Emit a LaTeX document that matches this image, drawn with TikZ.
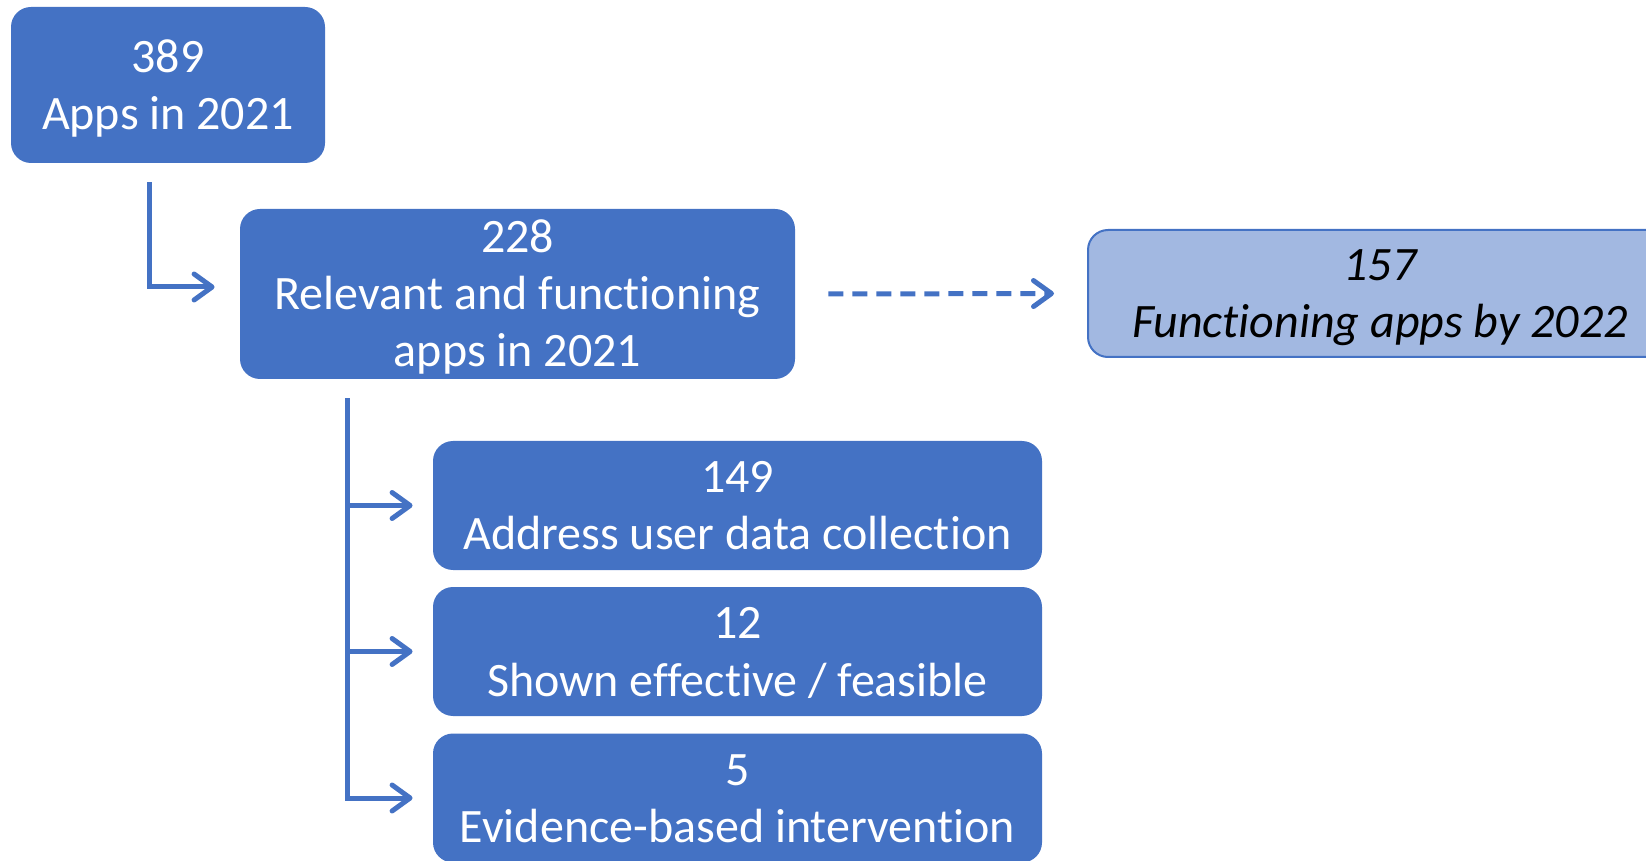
\documentclass[tikz,border=0pt]{standalone}
\usepackage{fontspec}
\setmainfont[Ligatures=NoCommon]{Carlito}
\usetikzlibrary{arrows.meta,calc}
\definecolor{boxblue}{HTML}{4472C4}
\definecolor{paleblue}{HTML}{A2B8E1}
% fixed line box so that every label sits at the same height in its box
\newcommand\ls{\rule[-4pt]{0pt}{24pt}}
\begin{document}
\begin{tikzpicture}[x=0.5pt,y=-0.5pt,
  box/.style={fill=boxblue, draw=none, rounded corners=10pt, text=white,
    align=center, inner sep=0pt, font=\fontsize{24pt}{28.5pt}\selectfont},
  palebox/.style={box, fill=paleblue, draw=boxblue, line width=1pt, text=black,
    font=\fontsize{24pt}{28.5pt}\selectfont\itshape},
  arr/.style={draw=boxblue, line width=2.5pt,
    -{Straight Barb[length=9pt,width=13pt,line cap=round,line join=round]}},
  dasharr/.style={arr, dash pattern=on 7.5pt off 4.5pt}
]
\clip (0,0) rectangle (1646,861);

% boxes
\node[box, minimum width=157pt, minimum height=78pt] (b1) at (168,85)
  {\ls 389\\Apps in 2021\ls};
\node[box, minimum width=277.5pt, minimum height=85pt] (b2) at (517.5,294)
  {\ls 228\\Relevant and functioning\\apps in 2021\ls};
\node[palebox, minimum width=292pt, minimum height=63.5pt] (b3) at (1380,293.5)
  {\ls 157\\Functioning apps by 2022\ls};
\node[box, minimum width=304.5pt, minimum height=64.5pt] (b4) at (737.5,505.5)
  {\ls 149\\Address user data collection\ls};
\node[box, minimum width=304.5pt, minimum height=64.5pt] (b5) at (737.5,651.5)
  {\ls 12\\Shown effective / feasible\ls};
\node[box, minimum width=304.5pt, minimum height=64.5pt] (b6) at (737.5,798)
  {\ls 5\\Evidence-based intervention\ls};

% connectors
\draw[arr] ($(b1.south west)+(139,19)$) |- ($(b2.west)+(-25,-7)$);
\draw[dasharr] ($(b2.east)+(33,0)$) -- ($(b3.west)+(-33,0)$);

\coordinate (trunk) at ($(b2.south west)+(108,19)$);
\draw[draw=boxblue, line width=2.5pt] (trunk) |- ($(b6.west)+(-40,0)$);
\draw[arr] (trunk |- b4.west) -- ($(b4.west)+(-20,0)$);
\draw[arr] (trunk |- b5.west) -- ($(b5.west)+(-20,0)$);
\draw[arr] (trunk |- b6.west) -- ($(b6.west)+(-20,0)$);
\end{tikzpicture}
\end{document}
